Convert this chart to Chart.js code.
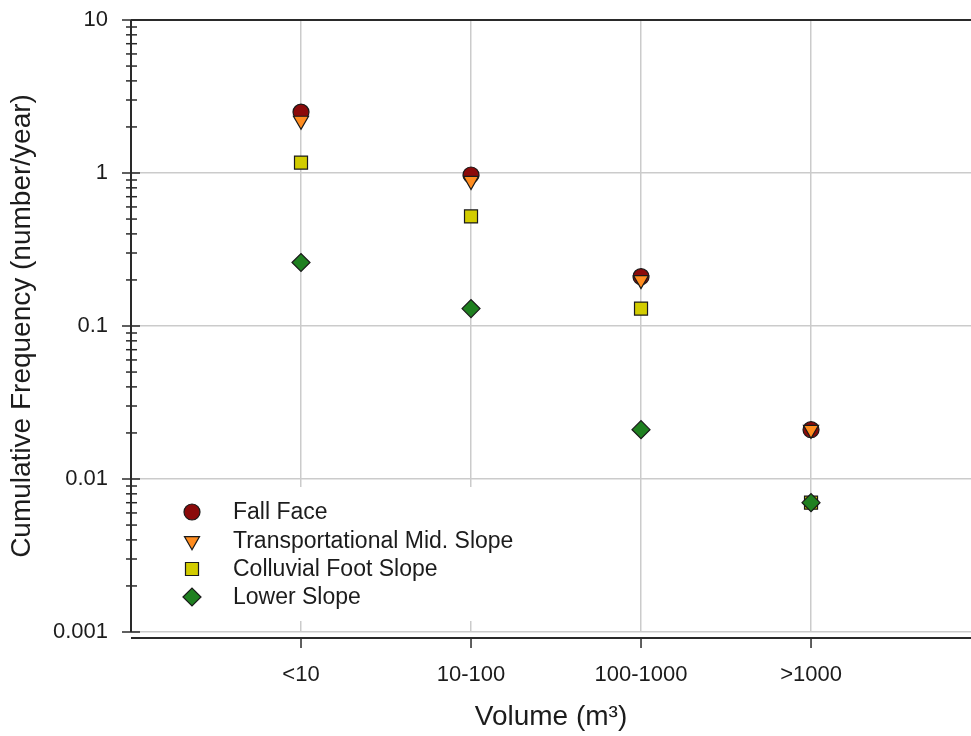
<!DOCTYPE html>
<html>
<head>
<meta charset="utf-8">
<script src="https://cdn.jsdelivr.net/npm/chart.js@4/dist/chart.umd.min.js"></script>
<style>
  html, body { margin: 0; padding: 0; background: #ffffff; overflow: hidden; }
  #wrap { width: 971px; height: 736px; }
</style>
</head>
<body>
<div id="wrap"><canvas id="chart" width="971" height="736"></canvas></div>
<script>
// Volume classes on the x axis
const categories = ['<10', '10-100', '100-1000', '>1000'];

// Cumulative frequency (number/year) per slope unit
const fallFace         = [2.5, 0.97, 0.21, 0.021];
const transportational = [2.2, 0.89, 0.2, 0.021];
const colluvialFoot    = [1.17, 0.52, 0.13, 0.007];
const lowerSlope       = [0.26, 0.13, 0.021, 0.007];

// Decade ticks on the log axis
const yTicks = [0.001, 0.01, 0.1, 1, 10];

const seriesNames = ['Fall Face', 'Transportational Mid. Slope', 'Colluvial Foot Slope', 'Lower Slope'];

const FONT = "'Liberation Sans', Arial, Helvetica, sans-serif";
const INK = '#1c1c1c';
const GRID = '#cbcbcb';

const toPoints = (vals) => vals.map((v, i) => ({ x: i + 1, y: v }));

const styles = [
  { pointStyle: 'circle',   radius: 8,   rotation: 0,   color: '#8b0a0a' },
  { pointStyle: 'triangle', radius: 8.7, rotation: 180, color: '#ff8c1f' },
  { pointStyle: 'rect',     radius: 9.2, rotation: 0,   color: '#d2cc00' },
  { pointStyle: 'rectRot',  radius: 9,   rotation: 0,   color: '#1f8020' }
];

const seriesData = [fallFace, transportational, colluvialFoot, lowerSlope];

const datasets = seriesData.map((vals, i) => ({
  label: seriesNames[i],
  data: toPoints(vals),
  pointStyle: styles[i].pointStyle,
  pointRadius: styles[i].radius,
  pointHoverRadius: styles[i].radius,
  pointRotation: styles[i].rotation,
  backgroundColor: styles[i].color,
  borderColor: '#1a1a1a',
  borderWidth: 1.2,
  order: 4 - i
}));

const noPadding = (scale) => {
  scale.paddingTop = 0;
  scale.paddingBottom = 0;
  scale.paddingLeft = 0;
  scale.paddingRight = 0;
};

// Axis frame, crossing tick marks and the in-plot legend
const framePlugin = {
  id: 'frame',
  afterDraw(chart) {
    const ctx = chart.ctx;
    const area = chart.chartArea;
    const xs = chart.scales.x;
    const ys = chart.scales.y;
    ctx.save();
    ctx.strokeStyle = '#2a2a2a';
    ctx.lineWidth = 2;
    // top frame line
    ctx.beginPath();
    ctx.moveTo(area.left, area.top);
    ctx.lineTo(area.right, area.top);
    ctx.stroke();
    // left axis line
    ctx.beginPath();
    ctx.moveTo(area.left, area.top);
    ctx.lineTo(area.left, area.bottom);
    ctx.stroke();
    // bottom axis line, set slightly below the plot
    const axisY = area.bottom + 6;
    ctx.beginPath();
    ctx.moveTo(area.left, axisY);
    ctx.lineTo(area.right, axisY);
    ctx.stroke();

    ctx.lineWidth = 1.5;
    // x ticks
    categories.forEach((c, i) => {
      const px = xs.getPixelForValue(i + 1);
      ctx.beginPath();
      ctx.moveTo(px, axisY);
      ctx.lineTo(px, axisY + 10);
      ctx.stroke();
    });
    // y major and minor ticks
    for (let d = 0; d < yTicks.length; d++) {
      const base = yTicks[d];
      const py = ys.getPixelForValue(base);
      ctx.beginPath();
      ctx.moveTo(area.left - 9, py);
      ctx.lineTo(area.left + 9, py);
      ctx.stroke();
      if (d < yTicks.length - 1) {
        for (let m = 2; m <= 9; m++) {
          const my = ys.getPixelForValue(base * m);
          ctx.beginPath();
          ctx.moveTo(area.left - 5, my);
          ctx.lineTo(area.left + 6, my);
          ctx.stroke();
        }
      }
    }

    // legend box
    ctx.fillStyle = '#ffffff';
    ctx.fillRect(area.left + 12, 487, 400, 134);
    const rowY = [512, 541, 569, 597];
    ctx.font = '23px ' + FONT;
    ctx.textBaseline = 'middle';
    ctx.textAlign = 'left';
    seriesNames.forEach((name, i) => {
      const st = styles[i];
      ctx.fillStyle = st.color;
      ctx.strokeStyle = '#1a1a1a';
      ctx.lineWidth = 1.2;
      Chart.helpers.drawPoint(ctx, {
        pointStyle: st.pointStyle,
        radius: st.radius,
        rotation: st.rotation,
        borderWidth: 1.2
      }, 192, rowY[i]);
      ctx.fillStyle = INK;
      ctx.fillText(name, 233, rowY[i] + 1);
    });
    ctx.restore();
  }
};

new Chart(document.getElementById('chart'), {
  type: 'scatter',
  data: { datasets },
  options: {
    responsive: false,
    animation: false,
    devicePixelRatio: 1,
    layout: { autoPadding: false, padding: { top: 20, right: 0, bottom: 0, left: 0 } },
    plugins: {
      legend: { display: false },
      tooltip: { enabled: false }
    },
    scales: {
      x: {
        type: 'linear',
        min: 0,
        max: 4.941,
        afterBuildTicks: (scale) => {
          scale.ticks = categories.map((c, i) => ({ value: i + 1 }));
        },
        afterFit: (scale) => { scale.height = 104; noPadding(scale); },
        ticks: {
          callback: (v) => categories[v - 1],
          font: { family: FONT, size: 22 },
          color: INK,
          padding: 30,
          maxRotation: 0,
          autoSkip: false
        },
        grid: { color: GRID, lineWidth: 1.5, drawTicks: false },
        border: { display: false },
        title: {
          display: true,
          text: 'Volume (m\u00b3)',
          font: { family: FONT, size: 28 },
          color: INK,
          padding: { top: 0, bottom: 2 }
        }
      },
      y: {
        type: 'logarithmic',
        min: 0.001,
        max: 10,
        afterBuildTicks: (scale) => {
          scale.ticks = yTicks.map((v) => ({ value: v }));
        },
        afterFit: (scale) => { scale.width = 131; noPadding(scale); },
        ticks: {
          callback: (v) => String(v),
          font: { family: FONT, size: 22 },
          color: INK,
          padding: 23
        },
        grid: { color: GRID, lineWidth: 1.5, drawTicks: false },
        border: { display: false },
        title: {
          display: true,
          text: 'Cumulative Frequency (number/year)',
          font: { family: FONT, size: 28 },
          color: INK,
          padding: { top: 5, bottom: 0 }
        }
      }
    }
  },
  plugins: [framePlugin]
});
</script>
</body>
</html>
